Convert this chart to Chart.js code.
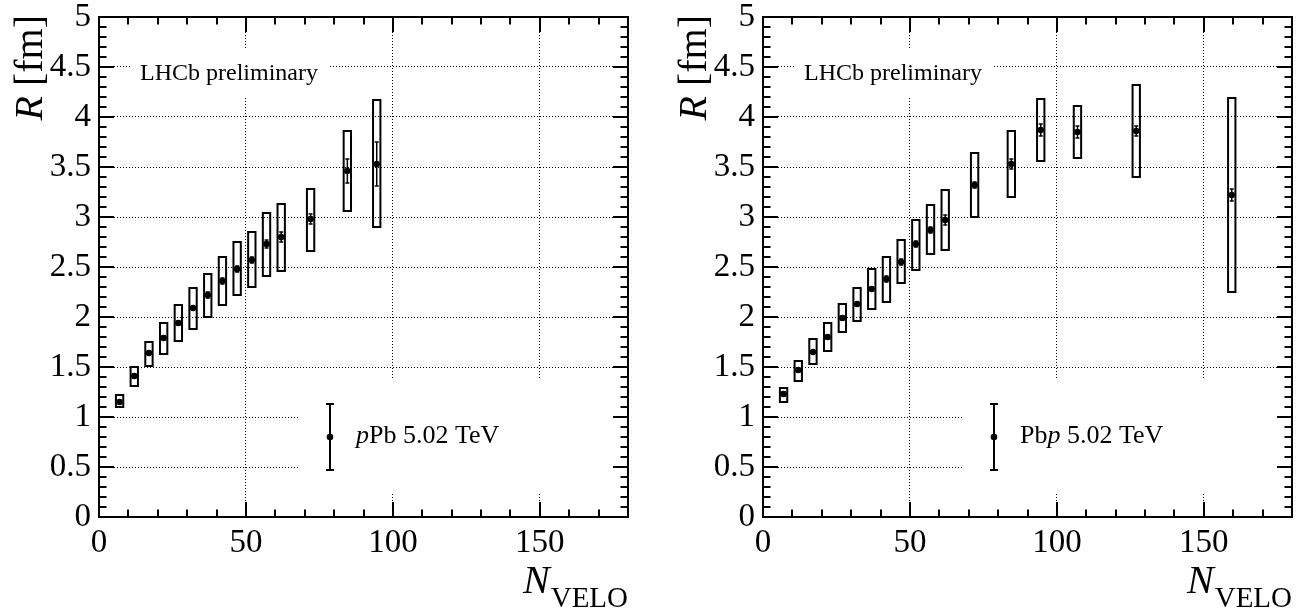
<!DOCTYPE html>
<html>
<head>
<meta charset="utf-8">
<script src="https://cdn.jsdelivr.net/npm/chart.js@4.4.1/dist/chart.umd.min.js"></script>
<style>
  html, body { margin: 0; padding: 0; background: #fff; }
  #wrap { position: relative; width: 1306px; height: 615px; overflow: hidden; }
  .pane { position: absolute; top: 0; width: 653px; height: 615px; }
  canvas { display: block; }
</style>
</head>
<body>
<div id="wrap">
  <div class="pane" style="left:0"><canvas id="cPPb" width="653" height="615"></canvas></div>
  <div class="pane" style="left:653px"><canvas id="cPbP" width="653" height="615"></canvas></div>
</div>
<script>
// ---- axis ticks ----
const xTicks = [0, 50, 100, 150];
const xTickLabels = ['0', '50', '100', '150'];
const yTicks = [0, 0.5, 1, 1.5, 2, 2.5, 3, 3.5, 4, 4.5, 5];
const yTickLabels = ['0', '0.5', '1', '1.5', '2', '2.5', '3', '3.5', '4', '4.5', '5'];

// ---- pPb 5.02 TeV ----
const nVeloPPb   = [7, 12, 17, 22, 27, 32, 37, 42, 47, 52, 57, 62, 72, 84.5, 94.5];
const radiusPPb  = [1.15, 1.41, 1.64, 1.79, 1.94, 2.09, 2.22, 2.36, 2.48, 2.57, 2.73, 2.80, 2.98, 3.46, 3.53];
const statPPb    = [0.02, 0.02, 0.02, 0.02, 0.02, 0.02, 0.03, 0.03, 0.03, 0.03, 0.04, 0.05, 0.05, 0.12, 0.22];
const sysLowPPb  = [1.10, 1.31, 1.51, 1.63, 1.76, 1.88, 2.00, 2.12, 2.22, 2.30, 2.41, 2.46, 2.66, 3.06, 2.90];
const sysHighPPb = [1.22, 1.50, 1.75, 1.94, 2.12, 2.29, 2.43, 2.60, 2.75, 2.85, 3.04, 3.13, 3.28, 3.86, 4.17];

// ---- Pbp 5.02 TeV ----
const nVeloPbP   = [7, 12, 17, 22, 27, 32, 37, 42, 47, 52, 57, 62, 72, 84.5, 94.5, 107, 127, 159.5];
const radiusPbP  = [1.23, 1.47, 1.65, 1.80, 1.99, 2.13, 2.28, 2.38, 2.55, 2.73, 2.87, 2.97, 3.32, 3.53, 3.87, 3.85, 3.86, 3.22];
const statPbP    = [0.02, 0.02, 0.02, 0.02, 0.02, 0.02, 0.02, 0.03, 0.03, 0.03, 0.03, 0.05, 0.03, 0.05, 0.06, 0.06, 0.05, 0.06];
const sysLowPbP  = [1.15, 1.36, 1.53, 1.66, 1.85, 1.96, 2.08, 2.15, 2.34, 2.47, 2.63, 2.67, 3.00, 3.20, 3.56, 3.59, 3.40, 2.25];
const sysHighPbP = [1.29, 1.56, 1.78, 1.94, 2.13, 2.29, 2.48, 2.60, 2.77, 2.97, 3.12, 3.27, 3.64, 3.86, 4.18, 4.11, 4.32, 4.19];

const SERIF = "'Liberation Serif', 'Times New Roman', 'DejaVu Serif', serif";
const BOX_HALF_WIDTH = 1.25;   // half width of systematic boxes, in N_VELO units

function drawRich(ctx, parts, x, y, align) {
  // parts: [{text, font}] drawn one after another on the same baseline
  let total = 0;
  parts.forEach(p => { ctx.font = p.font; p.w = ctx.measureText(p.text).width; total += p.w; });
  let cx = align === 'right' ? x - total : x;
  parts.forEach(p => {
    ctx.font = p.font;
    ctx.textAlign = 'left';
    ctx.fillText(p.text, cx, y);
    cx += p.w;
  });
}

function makePanel(canvasId, cfg) {
  const physPlugin = {
    id: 'physPanel',
    beforeDatasetsDraw(chart) {
      const { ctx, chartArea: a, scales: { x, y } } = chart;
      ctx.save();
      // white backgrounds behind the labels
      ctx.fillStyle = '#fff';
      ctx.fillRect(a.left + 31, a.top + 31, 198, 50);
      ctx.fillRect(a.left + 200, a.top + 363, a.right - a.left - 200, 114);

      // systematic uncertainty boxes
      ctx.strokeStyle = '#000';
      ctx.lineWidth = 2;
      cfg.xs.forEach((v, i) => {
        const l = x.getPixelForValue(v - BOX_HALF_WIDTH);
        const r = x.getPixelForValue(v + BOX_HALF_WIDTH);
        const t = y.getPixelForValue(cfg.sysHigh[i]);
        const b = y.getPixelForValue(cfg.sysLow[i]);
        ctx.strokeRect(l, t, r - l, b - t);
      });

      // statistical error bars
      ctx.lineWidth = 1.5;
      cfg.xs.forEach((v, i) => {
        const px = x.getPixelForValue(v);
        const t = y.getPixelForValue(cfg.ys[i] + cfg.stat[i]);
        const b = y.getPixelForValue(cfg.ys[i] - cfg.stat[i]);
        ctx.beginPath();
        ctx.moveTo(px, t); ctx.lineTo(px, b);
        ctx.moveTo(px - 2, t); ctx.lineTo(px + 2, t);
        ctx.moveTo(px - 2, b); ctx.lineTo(px + 2, b);
        ctx.stroke();
      });
      ctx.restore();
    },
    afterDraw(chart) {
      const { ctx, chartArea: a, scales: { x, y } } = chart;
      ctx.save();
      ctx.strokeStyle = '#000';
      ctx.fillStyle = '#000';

      // frame
      ctx.lineWidth = 2;
      ctx.strokeRect(a.left, a.top, a.right - a.left, a.bottom - a.top);

      // tick marks on all four sides
      ctx.lineWidth = 2;
      ctx.beginPath();
      for (let k = 0; k <= 50; k++) {
        const v = k / 10;
        const py = Math.round(y.getPixelForValue(v));
        const len = (k % 5 === 0) ? 15 : 7.5;
        ctx.moveTo(a.left, py); ctx.lineTo(a.left + len, py);
        ctx.moveTo(a.right, py); ctx.lineTo(a.right - len, py);
      }
      for (let k = 0; k <= 18; k++) {
        const v = k * 10;
        const px = Math.round(x.getPixelForValue(v));
        const len = (k % 5 === 0) ? 15 : 7.5;
        ctx.moveTo(px, a.bottom); ctx.lineTo(px, a.bottom - len);
        ctx.moveTo(px, a.top); ctx.lineTo(px, a.top + len);
      }
      ctx.stroke();

      ctx.textBaseline = 'alphabetic';
      // y axis title
      ctx.save();
      ctx.translate(a.left - 57, 15);
      ctx.rotate(-Math.PI / 2);
      drawRich(ctx, [
        { text: 'R', font: 'italic 40px ' + SERIF },
        { text: ' [fm]', font: '40px ' + SERIF }
      ], 0, 0, 'right');
      ctx.restore();

      // x axis title
      ctx.font = '29px ' + SERIF;
      const wSub = ctx.measureText('VELO').width;
      ctx.textAlign = 'right';
      ctx.fillText('VELO', a.right, 607);
      ctx.font = 'italic 40px ' + SERIF;
      ctx.fillText('N', a.right - wSub - 1, 593);

      // experiment label
      ctx.font = '24px ' + SERIF;
      ctx.textAlign = 'left';
      ctx.fillText('LHCb preliminary', a.left + 41, 80);

      // legend
      const lx = a.left + 231, ly = a.top + 420;
      ctx.lineWidth = 2;
      ctx.beginPath();
      ctx.moveTo(lx, ly - 33); ctx.lineTo(lx, ly + 33);
      ctx.moveTo(lx - 4, ly - 33); ctx.lineTo(lx + 4, ly - 33);
      ctx.moveTo(lx - 4, ly + 33); ctx.lineTo(lx + 4, ly + 33);
      ctx.stroke();
      ctx.beginPath();
      ctx.arc(lx, ly, 3.3, 0, Math.PI * 2);
      ctx.fill();
      drawRich(ctx, cfg.legend, a.left + 257, ly + 6, 'left');
      ctx.restore();
    }
  };

  return new Chart(document.getElementById(canvasId), {
    type: 'scatter',
    data: {
      datasets: [{
        label: cfg.name,
        data: cfg.xs.map((v, i) => ({ x: v, y: cfg.ys[i] })),
        pointRadius: 3.2,
        pointBackgroundColor: '#000',
        pointBorderWidth: 0,
        showLine: false
      }]
    },
    options: {
      responsive: false,
      animation: false,
      devicePixelRatio: 1,
      layout: { padding: { left: 0, right: cfg.padRight, top: 17, bottom: 0 } },
      plugins: { legend: { display: false }, tooltip: { enabled: false } },
      scales: {
        x: {
          type: 'linear', min: 0, max: 180,
          afterBuildTicks: s => { s.ticks = xTicks.map(v => ({ value: v })); },
          afterFit: s => { s.height = 98; },
          ticks: { font: { family: SERIF, size: 33, lineHeight: 1 }, color: '#000', padding: 10,
                   maxRotation: 0, callback: (v, i) => xTickLabels[i] },
          grid: { color: '#000', lineWidth: 1, drawTicks: false },
          border: { display: false, dash: [1, 2] }
        },
        y: {
          type: 'linear', min: 0, max: 5,
          afterBuildTicks: s => { s.ticks = yTicks.map(v => ({ value: v })); },
          afterFit: s => { s.width = cfg.yAxisWidth; },
          ticks: { font: { family: SERIF, size: 33, lineHeight: 0.4 }, color: '#000', padding: 8,
                   callback: (v, i) => yTickLabels[i] },
          grid: { color: '#000', lineWidth: 1, drawTicks: false },
          border: { display: false, dash: [1, 2] }
        }
      }
    },
    plugins: [physPlugin]
  });
}

makePanel('cPPb', {
  name: 'pPb 5.02 TeV',
  xs: nVeloPPb, ys: radiusPPb, stat: statPPb, sysLow: sysLowPPb, sysHigh: sysHighPPb,
  yAxisWidth: 99, padRight: 25,
  legend: [
    { text: 'p', font: 'italic 26px ' + SERIF },
    { text: 'Pb 5.02 TeV', font: '26px ' + SERIF }
  ]
});

makePanel('cPbP', {
  name: 'Pbp 5.02 TeV',
  xs: nVeloPbP, ys: radiusPbP, stat: statPbP, sysLow: sysLowPbP, sysHigh: sysHighPbP,
  yAxisWidth: 110, padRight: 14,
  legend: [
    { text: 'Pb', font: '26px ' + SERIF },
    { text: 'p', font: 'italic 26px ' + SERIF },
    { text: ' 5.02 TeV', font: '26px ' + SERIF }
  ]
});
</script>
</body>
</html>
